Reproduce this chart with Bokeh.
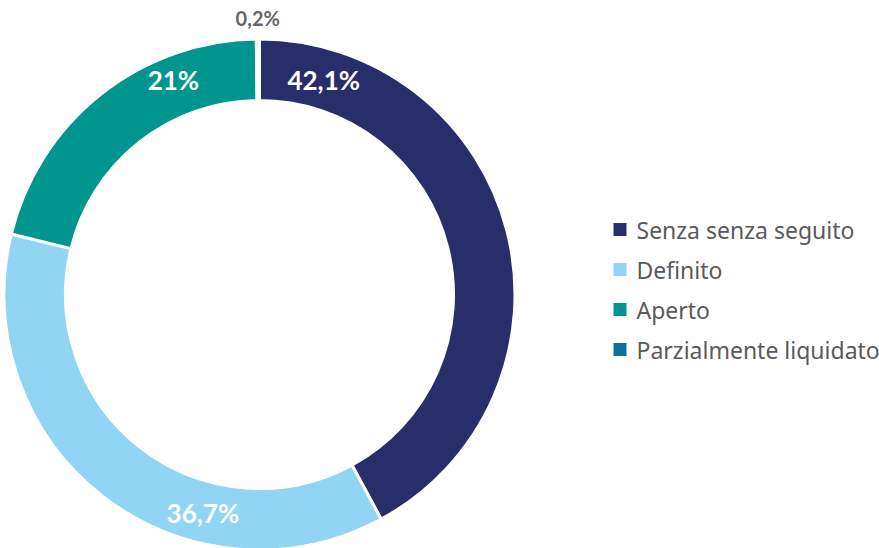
import math
from bokeh.plotting import figure
from bokeh.models import Range1d, ColumnDataSource
from bokeh.core.properties import value
from bokeh.embed import file_html
from bokeh.resources import INLINE

# ---- data ----
categories = ["Senza senza seguito", "Definito", "Aperto", "Parzialmente liquidato"]
shares = [42.1, 36.7, 21.0, 0.2]
share_labels = ["42,1%", "36,7%", "21%", "0,2%"]
colors = ["#282E6A", "#91D4F4", "#00958F", "#0C6FA0"]

# ---- layout / style ----
W, H = 879, 548
CX, CY = 259, 254          # ring centre (data units == pixels)
R_IN, R_OUT = 194, 255.5
label_frac = [0.11, 0.325, 0.72, 0.5]     # where inside its slice each label sits
label_rad = [224, 226, 231, 277]
label_color = ["white", "white", "white", "#666666"]
label_size = ["26px", "26px", "26px", "20px"]

p = figure(width=W, height=H, output_backend="svg", toolbar_location=None,
           x_range=Range1d(0, W), y_range=Range1d(0, H),
           min_border=0, outline_line_color=None)
p.axis.visible = False
p.grid.visible = False
p.background_fill_color = "white"

total = sum(shares)
starts, ends, lx, ly = [], [], [], []
acc = 0.0
for i, s in enumerate(shares):
    a0 = math.pi / 2 - 2 * math.pi * acc / total
    a1 = math.pi / 2 - 2 * math.pi * (acc + s) / total
    starts.append(a0)
    ends.append(a1)
    am = a0 + (a1 - a0) * label_frac[i]
    lx.append(CX + label_rad[i] * math.cos(am))
    ly.append(CY + label_rad[i] * math.sin(am))
    acc += s

src = ColumnDataSource(dict(start=starts, end=ends, color=colors))
p.annular_wedge(x=CX, y=CY, inner_radius=R_IN, outer_radius=R_OUT,
                start_angle="start", end_angle="end", direction="clock",
                fill_color="color", line_color="white", line_width=3, source=src)

lsrc = ColumnDataSource(dict(x=lx, y=ly, t=share_labels, c=label_color, s=label_size))
p.text(x="x", y="y", text="t", text_color="c", text_font_size="s",
       text_font=value("Lato"), text_font_style="bold",
       text_align="center", text_baseline="middle", source=lsrc)

# legend
leg_x = 619.5
leg_y = [548 - 229 - 40 * i for i in range(len(categories))]
p.scatter(x=[leg_x] * len(categories), y=leg_y, marker="square", size=13,
          fill_color=colors, line_color=None)
p.text(x=[636] * len(categories), y=leg_y, text=categories,
       text_font=value("Noto Sans"), text_font_size="23px", text_color="#5A5A5A",
       text_align="left", text_baseline="middle")

open("out.html", "w").write(file_html(p, INLINE))
